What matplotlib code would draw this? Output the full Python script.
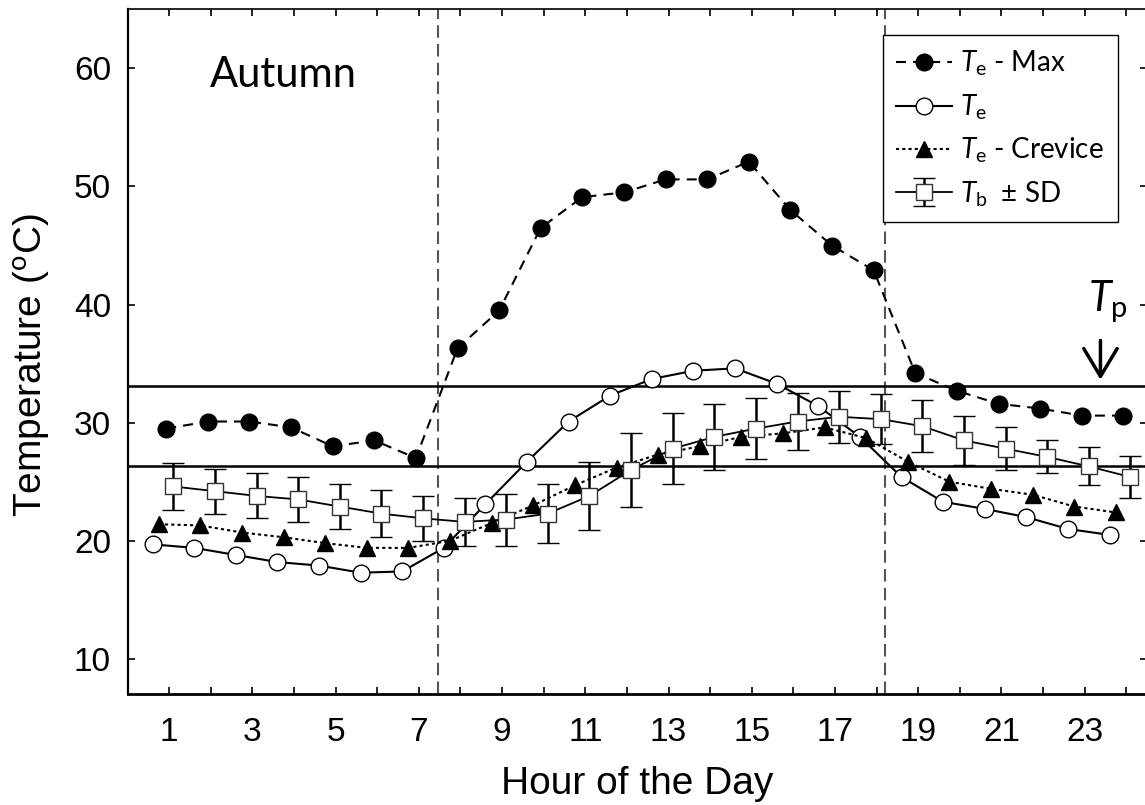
import matplotlib
matplotlib.use("Agg")
import matplotlib.pyplot as plt
import numpy as np

# hourly means, autumn
hours = np.arange(1, 25)
te_max = [29.5, 30.1, 30.1, 29.6, 28.0, 28.5, 27.0, 36.3, 39.5, 46.5, 49.1, 49.5,
          50.6, 50.6, 52.1, 48.0, 45.0, 42.9, 34.2, 32.7, 31.6, 31.2, 30.6, 30.6]
te = [19.7, 19.4, 18.8, 18.2, 17.9, 17.3, 17.4, 19.4, 23.1, 26.7, 30.1, 32.3,
      33.7, 34.4, 34.6, 33.3, 31.4, 28.8, 25.4, 23.3, 22.7, 22.0, 21.0, 20.5]
te_crevice = [21.4, 21.3, 20.7, 20.3, 19.8, 19.4, 19.4, 20.0, 21.5, 23.0, 24.7, 26.2,
              27.3, 28.0, 28.8, 29.1, 29.6, 28.7, 26.7, 25.0, 24.4, 23.9, 22.9, 22.4]
tb_mean = [24.6, 24.2, 23.8, 23.5, 22.9, 22.3, 21.9, 21.6, 21.8, 22.3, 23.8, 26.0,
           27.8, 28.8, 29.5, 30.1, 30.5, 30.3, 29.7, 28.5, 27.8, 27.1, 26.3, 25.4]
tb_sd = [2.0, 1.9, 1.9, 1.9, 1.9, 2.0, 1.9, 2.0, 2.2, 2.5, 2.9, 3.1,
         3.0, 2.8, 2.6, 2.4, 2.2, 2.1, 2.2, 2.1, 1.8, 1.4, 1.6, 1.8]

tp_low, tp_high = 26.3, 33.1
sunrise, sunset = 7.45, 18.2

plt.rcParams["font.family"] = "Liberation Sans"
plt.rcParams["mathtext.fontset"] = "custom"
plt.rcParams["mathtext.rm"] = "Lato"
plt.rcParams["mathtext.it"] = "Lato:italic"

fig = plt.figure(figsize=(11.45, 8.05), dpi=100)
ax = fig.add_axes([0.1114, 0.1375, 0.8904, 0.8509])

# day length and preferred range
for x in (sunrise, sunset):
    ax.axvline(x, color="#555555", lw=1.5, ls=(0, (6, 3)), zorder=1)
for y in (tp_low, tp_high):
    ax.axhline(y, color="black", lw=1.8, zorder=1)

ax.plot(hours - 0.07, te_max, color="black", ls=(0, (4.8, 3.4)), lw=1.5,
        marker="o", ms=12, mfc="black", mec="black",
        label=r"$T_\mathrm{e}$ - Max", zorder=3)
ax.plot(hours - 0.4, te, color="black", ls="-", lw=1.5,
        marker="o", ms=12, mfc="white", mec="black", mew=1,
        label=r"$T_\mathrm{e}$", zorder=3)
ax.plot(hours - 0.25, te_crevice, color="black", ls=(0, (1.5, 1.5)), lw=1.5,
        marker="^", ms=11, mfc="black", mec="black",
        label=r"$T_\mathrm{e}$ - Crevice", zorder=3)
ax.errorbar(hours + 0.1, tb_mean, yerr=tb_sd, color="black", lw=1.3,
            marker="s", ms=11.5, mfc="white", mec="#333333", mew=1,
            ecolor="black", elinewidth=1.8, capsize=8, capthick=1.8,
            label=r"$T_\mathrm{b}$  ± SD", zorder=4)

ax.set_xlim(0, 24.5)
ax.set_ylim(7, 65)
ax.set_xticks(hours)
ax.set_xticklabels([str(h) if h % 2 else "" for h in hours])
ax.set_yticks([10, 20, 30, 40, 50, 60])
ax.tick_params(direction="in", length=5, width=1.2, labelsize=24,
               top=True, right=True, pad=12)
ax.tick_params(axis="x", pad=16)

ax.spines["left"].set_linewidth(1.6)
ax.spines["bottom"].set_linewidth(2.0)
ax.spines["top"].set_linewidth(1.2)
ax.spines["right"].set_linewidth(1.2)

ax.set_xlabel("Hour of the Day", fontsize=28, labelpad=13)
ax.set_ylabel(r"Temperature ($^\mathrm{o}$C)", fontsize=28)
ax.yaxis.set_label_coords(-0.075, 0.481)

ax.text(1.98, 59.4, "Autumn", fontsize=30, family="Lato", ha="left", va="center")

ax.text(23.09, 39.4, r"$T_\mathrm{p}$", fontsize=30, ha="left", va="baseline")
ax.annotate("", xy=(23.38, 33.4), xytext=(23.38, 37.2),
            arrowprops=dict(arrowstyle="->,head_length=0.5,head_width=0.3",
                            lw=2.5, color="black", mutation_scale=40))

leg = ax.legend(loc="upper right", bbox_to_anchor=(1118 / 1145, 1 - 35 / 805),
                bbox_transform=fig.transFigure, borderaxespad=0,
                prop={"family": "Lato", "size": 20}, handlelength=2.0,
                handletextpad=0.3, labelspacing=0.5, borderpad=0.5,
                fancybox=False, framealpha=1, edgecolor="black")
leg.get_frame().set_linewidth(1.0)

fig.savefig("out.png", dpi=100)
